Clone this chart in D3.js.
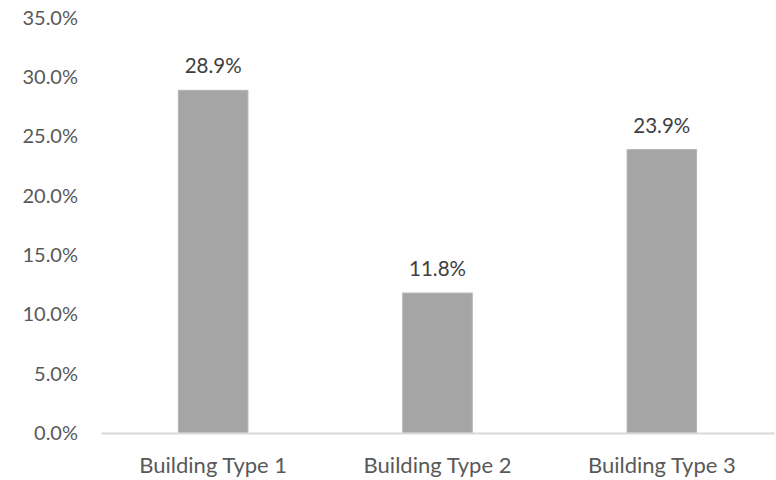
<!DOCTYPE html>
<html><head><meta charset="utf-8">
<script src="https://cdn.jsdelivr.net/npm/d3@7"></script>
<style>body{margin:0;background:#fff}svg{display:block}</style>
</head><body>
<script>
const categories = ["Building Type 1", "Building Type 2", "Building Type 3"];
const values = [0.289, 0.118, 0.239];
const yTicks = [0, 0.05, 0.10, 0.15, 0.20, 0.25, 0.30, 0.35];

const W = 776, H = 480;
const margin = {left: 101, right: 2, top: 18, bottom: 47};
const svg = d3.select("body").append("svg").attr("width", W).attr("height", H);
const font = "Lato, 'Open Sans', sans-serif";
const textColor = "#595959";

const x = d3.scaleBand().domain(categories)
  .range([margin.left, W - margin.right])
  .paddingInner(0.69).paddingOuter(0.345);
const y = d3.scaleLinear().domain([0, 0.35]).range([H - margin.bottom, margin.top]);

const fmt = d3.format(".1%");

// y axis labels (no line)
const yAxis = d3.axisLeft(y).tickValues(yTicks).tickFormat(fmt).tickSize(0).tickPadding(23);
const gy = svg.append("g").attr("transform", `translate(${margin.left},0)`).call(yAxis);
gy.select(".domain").remove();
gy.selectAll("text").attr("font-family", font).attr("font-size", 20).attr("fill", textColor);

// bars
svg.append("g").selectAll("rect").data(values).join("rect")
  .attr("x", (d, i) => x(categories[i]))
  .attr("y", d => y(d))
  .attr("width", x.bandwidth())
  .attr("height", d => y(0) - y(d))
  .attr("fill", "#a5a5a5")
  .attr("stroke", "#b4b4b4").attr("stroke-width", 1);

// x axis
const xAxis = d3.axisBottom(x).tickSize(0);
const gx = svg.append("g").attr("transform", `translate(0,${y(0)})`).call(xAxis);
gx.select(".domain").attr("stroke", "#d9d9d9").attr("stroke-width", 2);
gx.selectAll("text").attr("font-family", font).attr("font-size", 22).attr("fill", textColor)
  .attr("y", 40).attr("dy", 0);

// data labels
svg.append("g").selectAll("text").data(values).join("text")
  .attr("x", (d, i) => x(categories[i]) + x.bandwidth() / 2)
  .attr("y", d => y(d) - 17)
  .attr("text-anchor", "middle")
  .attr("font-family", font).attr("font-size", 20.5).attr("fill", "#404040")
  .text(d => fmt(d));
</script>
</body></html>
